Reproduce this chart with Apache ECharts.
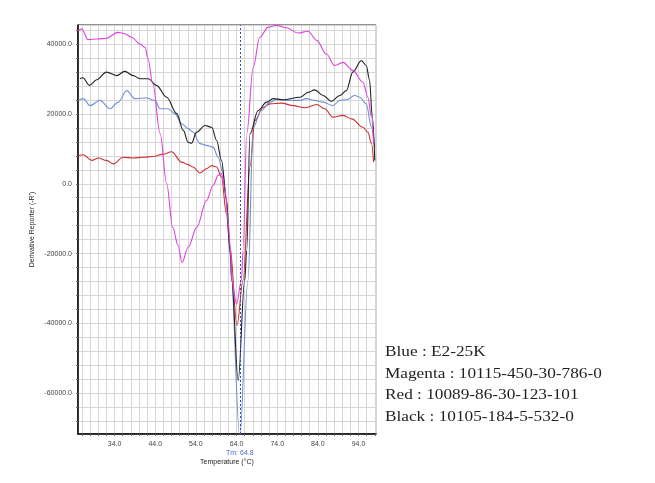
<!DOCTYPE html>
<html>
<head>
<meta charset="utf-8">
<script src="https://cdn.jsdelivr.net/npm/echarts@6/dist/echarts.min.js"></script>
<style>
html,body{margin:0;padding:0;background:#fff;}
#chart{width:655px;height:483px;}
</style>
</head>
<body>
<div id="chart"></div>
<script>
// Temperature (°C), derivative reporter (-R') pairs
const magentaT = [25.1,25.9,27.5,29.6,32.0,34.8,36.5,38.2,40.2,41.5,42.2,43.4,45.2,46.8,48.3,49.6,50.6,52.1,54.2,56.6,58.2,59.5,60.3,61.1,61.9,62.5,62.8,64.0,65.2,65.6,66.5,68.1,69.7,71.8,73.8,76.3,79.1,81.6,83.7,86.1,88.1,90.2,92.6,95.1,96.3,97.2,97.7];
const magentaV = [43900,44400,41300,41500,41700,43400,43000,42000,40100,39100,35900,28700,14400,100,-12500,-17600,-22600,-18200,-12500,-4800,-500,2400,2900,-1000,-10500,-18600,-27700,-34400,-27700,-19100,14300,33400,42000,44900,45400,44700,43200,43700,41100,37200,33900,34800,32500,29100,24800,19100,11500];

const blackT = [25.5,26.2,27.8,29.6,32.0,34.5,36.5,38.6,40.2,42.3,44.3,46.8,49.3,50.9,52.1,52.9,54.2,56.2,57.9,59.1,60.3,61.5,62.4,62.8,64.4,66.0,66.5,67.3,69.3,71.4,73.0,75.4,79.6,81.6,83.2,85.3,87.3,89.4,91.0,92.6,94.7,95.9,96.7,97.4,98.0];
const blackV = [30100,30400,28200,29800,32000,31000,32200,31000,30100,30100,28200,24800,20100,15300,11900,11600,14800,16700,16200,12400,6700,-4300,-19500,-27700,-56400,-27700,-19100,14300,21000,23400,24400,24100,24800,26200,26900,25300,23600,25300,26700,32000,35300,33900,29800,19100,6700];

const blueT = [25.1,26.3,28.0,30.4,32.9,34.9,37.0,39.0,41.9,43.9,45.2,47.2,48.8,50.5,52.1,53.3,55.0,56.6,58.2,59.5,60.7,61.5,62.4,64.8,66.8,68.1,70.1,72.2,73.8,76.3,79.6,81.2,83.2,85.3,87.7,89.4,91.0,93.1,94.3,95.9,97.2,98.0];
const blueV = [23900,24400,22400,23900,21500,23400,26700,24400,24600,23900,21500,21500,20100,17200,15800,14800,11500,11000,10500,7600,2900,-4800,-20100,-72600,-27700,16200,21000,23400,24100,23900,23900,24400,23900,23400,22400,23900,24100,25300,24800,22900,16200,10500];

const redT = [25.1,26.3,28.4,30.0,32.0,33.7,36.1,38.6,41.0,43.5,46.0,48.0,50.5,52.1,53.3,55.0,56.6,57.9,59.1,60.3,61.5,62.4,64.1,65.6,67.3,68.5,70.5,72.2,75.1,77.9,80.8,83.7,85.7,87.7,90.2,92.3,95.1,96.3,97.2,97.7];
const redV = [8100,8300,6700,7400,6700,5700,7600,7400,7600,7800,8500,9200,6200,5500,4800,3100,4300,5200,4800,1900,-8600,-18200,-40600,-27700,4800,18100,21900,22900,23100,22400,21800,22700,21500,19100,19600,18600,16200,14800,11500,6200];

const tmValue = 64.8;
const xLabelTicks = [34, 44, 54, 64, 74, 84, 94];
const yLabelTicks = [-60000, -40000, -20000, 0, 20000, 40000];
const legendLines = ['Blue : E2-25K', 'Magenta : 10115-450-30-786-0', 'Red : 10089-86-30-123-101', 'Black : 10105-184-5-532-0'];

function pairs(t, v) { return t.map((x, i) => [x, v[i]]); }

const chart = echarts.init(document.getElementById('chart'), null, {renderer: 'canvas'});

const lineBase = {
  type: 'line', showSymbol: false, symbol: 'none', smooth: 0.35, smoothMonotone: 'x',
  animation: false, z: 3
};

const option = {
  animation: false,
  backgroundColor: '#ffffff',
  grid: {left: 78, top: 25, right: 279, bottom: 49, show: true, borderColor: '#222', borderWidth: 1, backgroundColor: 'transparent'},
  xAxis: {
    type: 'value', min: 25, max: 98.3, splitNumber: 40, minInterval: 2, maxInterval: 2,
    name: 'Temperature (°C)', nameLocation: 'middle', nameGap: 25,
    nameTextStyle: {fontSize: 7, color: '#222', fontFamily: 'Liberation Sans'},
    axisLine: {show: true, onZero: false, lineStyle: {color: '#000', width: 1.5}},
    axisTick: {show: true, length: 2, lineStyle: {color: '#666'}},
    axisLabel: {
      fontSize: 7, color: '#444', margin: 7, fontFamily: 'Liberation Sans',
      showMinLabel: false, showMaxLabel: false,
      formatter: v => xLabelTicks.some(t => Math.abs(t - v) < 1e-6) ? v.toFixed(1) : ''
    },
    splitLine: {show: true, lineStyle: {color: '#d6d6d6', width: 1}}
  },
  yAxis: {
    type: 'value', min: -71700, max: 45500, splitNumber: 30, minInterval: 4000, maxInterval: 4000,
    name: "Derivative Reporter (-R')", nameLocation: 'middle', nameGap: 42, nameRotate: 90,
    nameTextStyle: {fontSize: 7, color: '#222', fontFamily: 'Liberation Sans'},
    axisLine: {show: true, onZero: false, lineStyle: {color: '#000', width: 1.5}},
    axisTick: {show: true, length: 2, lineStyle: {color: '#666'}},
    axisLabel: {
      fontSize: 7, color: '#444', margin: 6, fontFamily: 'Liberation Sans',
      showMinLabel: false, showMaxLabel: false,
      formatter: v => yLabelTicks.some(t => Math.abs(t - v) < 1e-6) ? v.toFixed(1) : ''
    },
    splitLine: {show: true, lineStyle: {color: '#d6d6d6', width: 1}}
  },
  series: [
    Object.assign({}, lineBase, {name: 'Red', data: pairs(redT, redV), lineStyle: {color: '#cc3030', width: 1.1}, itemStyle: {color: '#cc3030'}}),
    Object.assign({}, lineBase, {name: 'Blue', data: pairs(blueT, blueV), lineStyle: {color: '#6f8fd4', width: 1.1}, itemStyle: {color: '#6f8fd4'},
      markLine: {
        silent: true, symbol: ['none', 'none'], animation: false,
        lineStyle: {color: '#3050c8', type: [2, 2], width: 1},
        label: {show: true, position: 'start', distance: 16, fontSize: 7, color: '#4a6cc8', fontFamily: 'Liberation Sans',
          formatter: p => 'Tm: ' + Number(p.value).toFixed(1)},
        data: [{xAxis: tmValue}]
      }}),
    Object.assign({}, lineBase, {name: 'Black', data: pairs(blackT, blackV), lineStyle: {color: '#222222', width: 1.1}, itemStyle: {color: '#222'}}),
    Object.assign({}, lineBase, {name: 'Magenta', data: pairs(magentaT, magentaV), lineStyle: {color: '#dd44dd', width: 1.1}, itemStyle: {color: '#dd44dd'}})
  ],
  graphic: legendLines.map((txt, i) => ({
    type: 'text', x: 385, y: 345 + i * 21.5, scaleX: 1.15,
    style: {text: txt, fill: '#222', font: '15px "Liberation Serif", "Times New Roman", serif'}
  }))
};
chart.setOption(option);
</script>
</body>
</html>
